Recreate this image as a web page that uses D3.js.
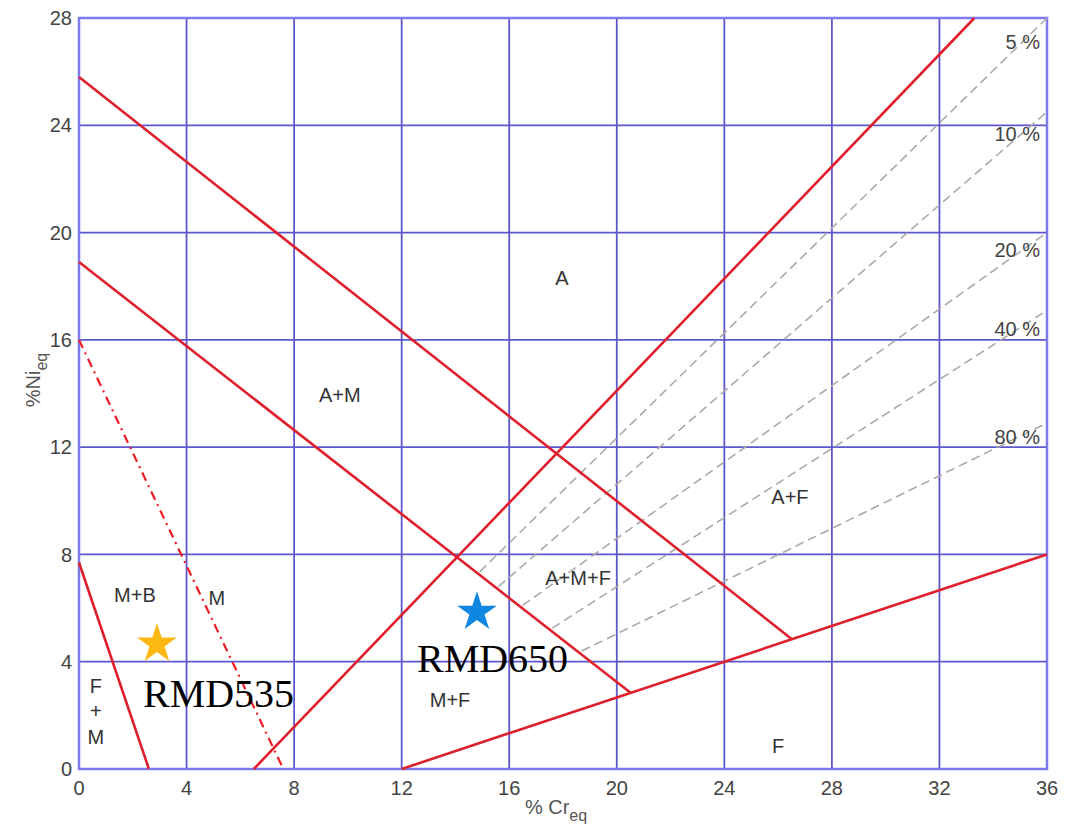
<!DOCTYPE html>
<html>
<head>
<meta charset="utf-8">
<script src="https://cdn.jsdelivr.net/npm/d3@7"></script>
<style>
  body { margin: 0; background: #fff; }
  svg { display: block; font-family: 'Liberation Sans', Arial, sans-serif; }
</style>
</head>
<body>
<svg id="chart" width="1080" height="832"></svg>
<script>
// axis ticks
const xTicks = [0, 4, 8, 12, 16, 20, 24, 28, 32, 36];
const yTicks = [0, 4, 8, 12, 16, 20, 24, 28];

// phase boundaries (Cr_eq, Ni_eq endpoints)
const phaseLines = [
  [[0, 25.8], [26.5, 4.85]],
  [[0, 18.9], [20.5, 2.85]],
  [[6.5, 0], [33.3, 28]],
  [[12, 0], [36, 8]],
  [[0, 7.7], [2.6, 0]]
];
const dashDotLine = [[0, 16], [7.6, 0]];

// ferrite iso-lines
const ferriteLines = [
  [[14.9, 7.35], [36, 28]],
  [[15.6, 6.8], [36, 24.5]],
  [[16.5, 6.1], [36, 20.0]],
  [[17.6, 5.25], [36, 17.1]],
  [[18.7, 4.4], [36, 12.9]]
];
const ferriteLabels = ['5 %', '10 %', '20 %', '40 %', '80 %'];
const ferriteLabelY = [27.1, 23.7, 19.35, 16.4, 12.4];

// region labels
const regionNames = ['A', 'A+M', 'A+F', 'A+M+F', 'M+B', 'M', 'F', '+', 'M', 'M+F', 'F'];
const regionPos = [[17.96, 18.3], [9.7, 13.95], [26.44, 10.14], [18.56, 7.12], [2.08, 6.49],
  [5.13, 6.38], [0.63, 3.09], [0.63, 2.16], [0.63, 1.19], [13.8, 2.57], [26.0, 0.86]];

// samples
const sampleNames = ['RMD535', 'RMD650'];
const samplePts = [[2.9, 4.66], [14.8, 5.85]];
const sampleColors = ['#fdb813', '#0f86e0'];
const sampleLabelPos = [[2.38, 2.31], [12.57, 3.62]];

const svg = d3.select('#chart');
const x = d3.scaleLinear().domain([0, 36]).range([79, 1047]);
const y = d3.scaleLinear().domain([0, 28]).range([769, 18]);

// grid
const grid = svg.append('g').attr('stroke', '#5c58cc').attr('stroke-width', 1.8);
grid.selectAll('line.v').data(xTicks.slice(1, -1)).join('line')
  .attr('x1', d => x(d)).attr('x2', d => x(d)).attr('y1', y(0)).attr('y2', y(28));
grid.selectAll('line.h').data(yTicks.slice(1, -1)).join('line')
  .attr('y1', d => y(d)).attr('y2', d => y(d)).attr('x1', x(0)).attr('x2', x(36));
svg.append('rect')
  .attr('x', x(0)).attr('y', y(28)).attr('width', x(36) - x(0)).attr('height', y(0) - y(28))
  .attr('fill', 'none').attr('stroke', '#7e7aec').attr('stroke-width', 2.5);

// tick labels
svg.append('g').selectAll('text').data(xTicks).join('text')
  .attr('x', d => x(d)).attr('y', 795).attr('text-anchor', 'middle')
  .attr('font-size', 20).attr('fill', '#444').text(d => d);
svg.append('g').selectAll('text').data(yTicks).join('text')
  .attr('x', 72).attr('y', d => y(d)).attr('dy', '0.36em').attr('text-anchor', 'end')
  .attr('font-size', 20).attr('fill', '#444').text(d => d);

// axis titles
const xt = svg.append('text').attr('x', 556).attr('y', 814).attr('text-anchor', 'middle')
  .attr('font-size', 20).attr('fill', '#555');
xt.append('tspan').text('% Cr');
xt.append('tspan').attr('font-size', 16).attr('dy', 7).text('eq');
const yt = svg.append('text').attr('transform', 'translate(40,380) rotate(-90)')
  .attr('text-anchor', 'middle').attr('font-size', 20).attr('fill', '#555');
yt.append('tspan').text('%Ni');
yt.append('tspan').attr('font-size', 16).attr('dy', 7).text('eq');

const line = d3.line().x(d => x(d[0])).y(d => y(d[1]));

// ferrite lines
svg.append('g').selectAll('path').data(ferriteLines).join('path')
  .attr('d', line).attr('fill', 'none').attr('stroke', '#aaa')
  .attr('stroke-width', 1.6).attr('stroke-dasharray', '9,5');

// phase lines
svg.append('g').selectAll('path').data(phaseLines).join('path')
  .attr('d', line).attr('fill', 'none').attr('stroke', '#e01f2d').attr('stroke-width', 2.6);
svg.append('path').datum(dashDotLine).attr('d', line).attr('fill', 'none')
  .attr('stroke', '#ee1c25').attr('stroke-width', 2.2).attr('stroke-dasharray', '9,5,2,5');

// ferrite labels
svg.append('g').selectAll('text').data(ferriteLabels).join('text')
  .attr('x', x(35.74)).attr('y', (d, i) => y(ferriteLabelY[i])).attr('dy', '0.36em')
  .attr('text-anchor', 'end').attr('font-size', 20).attr('fill', '#444').text(d => d);

// region labels
svg.append('g').selectAll('text').data(regionNames).join('text')
  .attr('x', (d, i) => x(regionPos[i][0])).attr('y', (d, i) => y(regionPos[i][1]))
  .attr('dy', '0.36em').attr('text-anchor', 'middle').attr('font-size', 20)
  .attr('fill', '#333').text(d => d);

// samples
svg.append('g').selectAll('path').data(samplePts).join('path')
  .attr('transform', d => `translate(${x(d[0])},${y(d[1])})`)
  .attr('d', d3.symbol(d3.symbolStar, 490)).attr('fill', (d, i) => sampleColors[i]);
svg.append('g').selectAll('text').data(sampleNames).join('text')
  .attr('x', (d, i) => x(sampleLabelPos[i][0])).attr('y', (d, i) => y(sampleLabelPos[i][1]))
  .attr('font-family', "'Liberation Serif', 'Times New Roman', serif")
  .attr('font-size', 40).attr('fill', '#000').text(d => d);
</script>
</body>
</html>
